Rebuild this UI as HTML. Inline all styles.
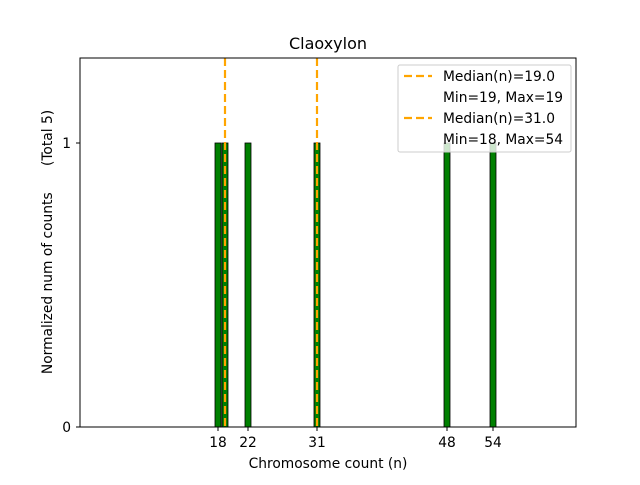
<!DOCTYPE html>
<html><head><meta charset="utf-8"><style>body{margin:0;background:#fff}</style></head><body>
<svg width="640" height="480" xmlns="http://www.w3.org/2000/svg" font-family="DejaVu Sans, Liberation Sans, sans-serif">
<rect width="640" height="480" fill="#fff"/>
<g fill="#008000" stroke="#000" stroke-width="0.8">
<rect x="215" y="143" width="6" height="284"/>
<rect x="222" y="143" width="6" height="284"/>
<rect x="245" y="143" width="6" height="284"/>
<rect x="314" y="143" width="6" height="284"/>
<rect x="444" y="143" width="6" height="284"/>
<rect x="490" y="143" width="6" height="284"/>
</g>
<g stroke="#ffa500" stroke-width="2.2" stroke-dasharray="8,4">
<line x1="225" y1="58" x2="225" y2="427"/>
<line x1="317" y1="58" x2="317" y2="427"/>
</g>
<rect x="80" y="58" width="496" height="369" fill="none" stroke="#000" stroke-width="1"/>
<g stroke="#000">
<line x1="76" y1="143" x2="80" y2="143"/><line x1="76" y1="427" x2="80" y2="427"/>
<line x1="218" y1="427" x2="218" y2="431"/><line x1="248" y1="427" x2="248" y2="431"/>
<line x1="317" y1="427" x2="317" y2="431"/><line x1="447" y1="427" x2="447" y2="431"/>
<line x1="493" y1="427" x2="493" y2="431"/>
</g>
<g font-size="13.8" fill="#000">
<text x="71" y="148" text-anchor="end">1</text>
<text x="71" y="432" text-anchor="end">0</text>
<g text-anchor="middle">
<text x="218" y="447">18</text><text x="248" y="447">22</text><text x="317" y="447">31</text>
<text x="447" y="447">48</text><text x="493" y="447">54</text>
<text x="328" y="468">Chromosome count (n)</text>
<text x="328" y="49" font-size="16">Claoxylon</text>
</g>
<text transform="translate(52,242) rotate(-90)" text-anchor="middle" xml:space="preserve">Normalized num of counts      (Total 5)</text>
</g>
<rect x="398" y="65" width="173" height="87" rx="2" fill="#fff" fill-opacity="0.8" stroke="#ccc"/>
<g stroke="#ffa500" stroke-width="2.2" stroke-dasharray="8,4">
<line x1="404" y1="76" x2="432" y2="76"/><line x1="404" y1="118" x2="432" y2="118"/>
</g>
<g font-size="13.8" fill="#000">
<text x="443" y="81">Median(n)=19.0</text>
<text x="443" y="102">Min=19, Max=19</text>
<text x="443" y="123">Median(n)=31.0</text>
<text x="443" y="144">Min=18, Max=54</text>
</g>
</svg>
</body></html>
